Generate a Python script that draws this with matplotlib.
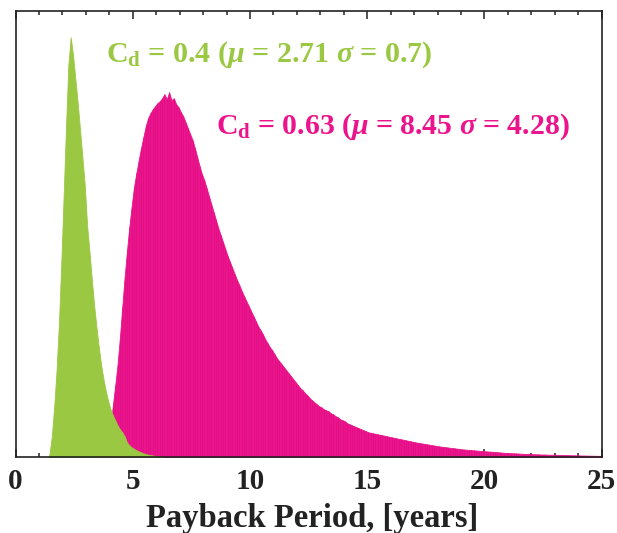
import numpy as np
import matplotlib
matplotlib.use("Agg")
import matplotlib.pyplot as plt
from matplotlib.ticker import MultipleLocator

# ---------------- data ----------------
bin_width = 0.1

green_start = 1.4
green_heights = [
    4, 22, 52, 88, 135, 195, 262, 330, 392, 420,      # 1.4 - 2.3
    402, 378, 354, 327, 300, 272, 232, 206, 178, 152,  # 2.4 - 3.3
    130, 110, 92, 78, 66, 56, 48, 42, 37, 32,          # 3.4 - 4.3
    28, 25, 21, 15, 12, 10, 8.5, 7, 6, 5,              # 4.4 - 5.3
    4, 3.3, 2.7, 2.2, 1.8, 1.4, 1.0, 0.7, 0.4,         # 5.4 - 6.2
]

magenta_start = 3.8
magenta_heights = [
    3, 12, 30, 52, 72, 93, 120, 150, 180, 206,                 # 3.8 - 4.7
    230, 251, 270, 284, 297, 309, 320, 331, 339, 344,          # 4.8 - 5.7
    348, 351, 354, 356, 359, 363, 358, 365, 357, 359,          # 5.8 - 6.7
    353, 350, 345, 341, 335, 329, 323, 317, 309, 300,          # 6.8 - 7.7
    291, 283, 277, 269, 261, 253, 245, 237, 229, 222,          # 7.8 - 8.7
    215, 208, 201, 195, 189, 183, 177, 172, 166, 161,          # 8.8 - 9.7
    156, 151, 146, 141, 136, 131, 127, 123, 118, 114,          # 9.8 - 10.7
    110, 107, 103, 99, 96, 93, 90, 87, 84, 81,                 # 10.8 - 11.7
    78, 75, 72, 69, 67, 64, 62, 59, 57, 55,                    # 11.8 - 12.7
    53, 51, 50, 48, 47, 46, 44, 43, 41, 40,                    # 12.8 - 13.7
    38, 37, 36, 34, 33, 32, 31, 30, 29, 28,                    # 13.8 - 14.7
    27, 26, 25, 24.5, 24, 23.5, 23, 22.5, 22, 21.5,            # 14.8 - 15.7
    21, 20.5, 20, 19.5, 19, 18.5, 18, 17.5, 17, 16.5,          # 15.8 - 16.7
    16, 15.5, 15, 14.6, 14.2, 13.8, 13.4, 13, 12.6, 12.2,      # 16.8 - 17.7
    11.8, 11.4, 11, 10.7, 10.4, 10.1, 9.8, 9.5, 9.2, 8.9,      # 17.8 - 18.7
    8.6, 8.3, 8, 7.8, 7.6, 7.4, 7.2, 7, 6.8, 6.6,              # 18.8 - 19.7
    6.4, 6.2, 6, 5.8, 5.7, 5.5, 5.3, 5.1, 4.9, 4.7,            # 19.8 - 20.7
    4.5, 4.3, 4.2, 4.1, 4.0, 3.9, 3.8, 3.6, 3.5, 3.4,          # 20.8 - 21.7
    3.3, 3.2, 3.1, 3.0, 3.0, 2.9, 2.8, 2.8, 2.7, 2.6,          # 21.8 - 22.7
    2.6, 2.5, 2.5, 2.4, 2.3, 2.3, 2.2, 2.2, 2.1, 2.0,          # 22.8 - 23.7
    2.0, 1.9, 1.9, 1.8, 1.8, 1.7, 1.7, 1.6, 1.6, 1.5,          # 23.8 - 24.7
    1.5, 1.4,                                                  # 24.8 - 24.9
]

green_label = r"$\mathbf{C}_\mathbf{d}$ = 0.4 ($\mu$ = 2.71 $\sigma$ = 0.7)"
magenta_label = r"$\mathbf{C}_\mathbf{d}$ = 0.63 ($\mu$ = 8.45 $\sigma$ = 4.28)"
x_label = "Payback Period, [years]"
x_ticks = [0, 5, 10, 15, 20, 25]

GREEN = "#9bc842"
MAGENTA = "#ec148c"

# ---------------- style ----------------
plt.rcParams["font.family"] = ["Liberation Serif", "DejaVu Serif"]
plt.rcParams["font.weight"] = "bold"
plt.rcParams["mathtext.fontset"] = "custom"
plt.rcParams["mathtext.rm"] = "Liberation Serif:bold"
plt.rcParams["mathtext.bf"] = "Liberation Serif:bold"
plt.rcParams["mathtext.it"] = "Liberation Serif:italic"

fig = plt.figure(figsize=(6.17, 5.33), dpi=100)
ax = fig.add_axes([0.0253, 0.142, 0.975 - 0.0253, 0.979 - 0.142])

# bin centres, with the histogram closed to zero at both ends
g_x = green_start + bin_width * (np.arange(len(green_heights)) + 0.5)
m_x = magenta_start + bin_width * (np.arange(len(magenta_heights)) + 0.5)
g_h = np.asarray(green_heights, dtype=float)
m_h = np.asarray(magenta_heights, dtype=float)

g_xx = np.concatenate([[green_start], g_x, [g_x[-1] + bin_width / 2]])
g_hh = np.concatenate([[0.0], g_h, [0.0]])
m_xx = np.concatenate([[magenta_start], m_x, [25.0]])
m_hh = np.concatenate([[0.0], m_h, [m_h[-1]]])

ax.fill_between(m_xx, 0, m_hh, color=MAGENTA, linewidth=0.6,
                edgecolor=MAGENTA, zorder=2)
ax.vlines(m_x, 0, m_h, color="#d20c7a", linewidth=0.5, alpha=0.6, zorder=2.5)
ax.fill_between(g_xx, 0, g_hh, color=GREEN, linewidth=0.6,
                edgecolor=GREEN, zorder=3)

ax.set_xlim(0, 25)
ax.set_ylim(0, 446)
ax.set_yticks([])
ax.set_xticks(x_ticks)
ax.set_xticklabels([str(t) for t in x_ticks])
ax.xaxis.set_minor_locator(MultipleLocator(1))
ax.tick_params(axis="x", which="both", direction="in", top=True, bottom=True,
               color="#222222", width=1.1)
ax.tick_params(axis="x", which="major", length=5.5, pad=8, labelsize=21)
ax.tick_params(axis="x", which="minor", length=3)
for s in ax.spines.values():
    s.set_linewidth(1.2)
    s.set_color("#222222")
    s.set_zorder(6)
for lbl in ax.get_xticklabels():
    lbl.set_fontweight("bold")
    lbl.set_color("#222222")

# x-axis title placed by its baseline so that it stays inside the figure
fig.text(0.506, 1 - 526.5 / 533, x_label, fontsize=23.5, fontweight="bold",
         color="#222222", ha="center", va="baseline")

ax.text(3.87, 395.5, green_label, color=GREEN, fontsize=21.6, fontweight="bold",
        ha="left", va="baseline", zorder=5)
ax.text(8.56, 324, magenta_label, color=MAGENTA, fontsize=21.4, fontweight="bold",
        ha="left", va="baseline", zorder=5)

fig.savefig("out.png", dpi=100)
